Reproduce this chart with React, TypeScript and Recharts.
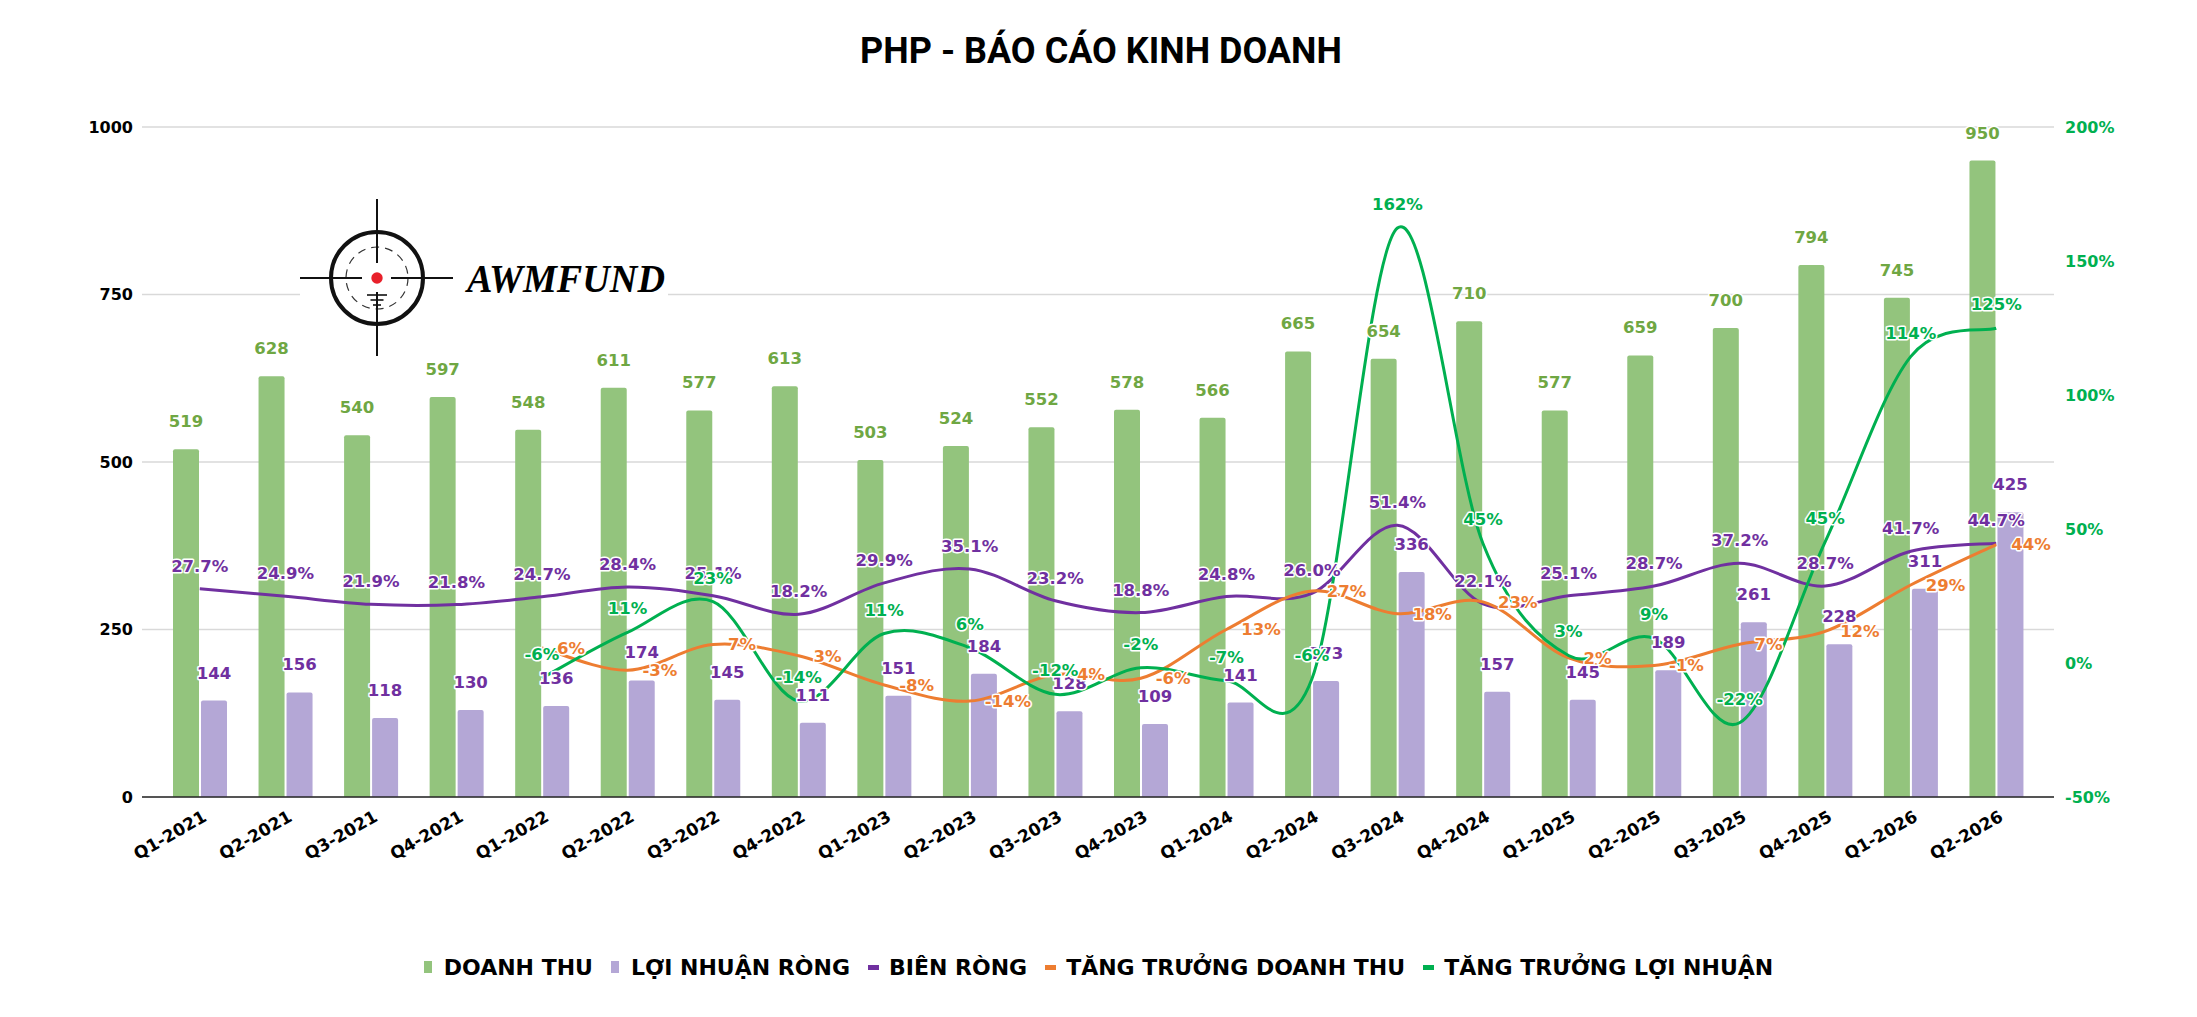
import React from 'react';
import {
  ComposedChart,
  Bar,
  Line,
  XAxis,
  YAxis,
  CartesianGrid,
  LabelList,
  Legend,
} from 'recharts';

// ---------------- DATA ----------------
const categories = [
  'Q1-2021', 'Q2-2021', 'Q3-2021', 'Q4-2021',
  'Q1-2022', 'Q2-2022', 'Q3-2022', 'Q4-2022',
  'Q1-2023', 'Q2-2023', 'Q3-2023', 'Q4-2023',
  'Q1-2024', 'Q2-2024', 'Q3-2024', 'Q4-2024',
  'Q1-2025', 'Q2-2025', 'Q3-2025', 'Q4-2025',
  'Q1-2026', 'Q2-2026',
];

const revenue = [519, 628, 540, 597, 548, 611, 577, 613, 503, 524, 552, 578, 566, 665, 654, 710, 577, 659, 700, 794, 745, 950];

const netProfit = [144, 156, 118, 130, 136, 174, 145, 111, 151, 184, 128, 109, 141, 173, 336, 157, 145, 189, 261, 228, 311, 425];

const netMargin = [27.7, 24.9, 21.9, 21.8, 24.7, 28.4, 25.1, 18.2, 29.9, 35.1, 23.2, 18.8, 24.8, 26.0, 51.4, 22.1, 25.1, 28.7, 37.2, 28.7, 41.7, 44.7];

const revenueGrowth = [null, null, null, null, 5.6, -2.7, 6.9, 2.7, -8.2, -14.2, -4.3, -5.7, 12.5, 26.9, 18.4, 22.8, 1.9, -0.9, 7.0, 11.8, 29.1, 44.2];

const profitGrowth = [null, null, null, null, -5.6, 11.4, 22.9, -14.2, 11.0, 5.7, -11.7, -1.8, -6.6, -6.0, 162.3, 44.6, 2.8, 9.2, -22.3, 45.2, 114.3, 124.9];

const leftTicks = [0, 250, 500, 750, 1000];
const rightTicks = [-50, 0, 50, 100, 150, 200];

const seriesOrder = ['revenue', 'netProfit', 'netMargin', 'revenueGrowth', 'profitGrowth'];
const seriesNames: Record<string, string> = {
  revenue: 'DOANH THU',
  netProfit: 'LỢI NHUẬN RÒNG',
  netMargin: 'BIÊN RÒNG',
  revenueGrowth: 'TĂNG TRƯỞNG DOANH THU',
  profitGrowth: 'TĂNG TRƯỞNG LỢI NHUẬN',
};

const data = categories.map((name, i) => ({
  name,
  revenue: revenue[i],
  netProfit: netProfit[i],
  netMargin: netMargin[i],
  revenueGrowth: revenueGrowth[i],
  profitGrowth: profitGrowth[i],
}));

// ---------------- STYLE ----------------
const C_REV = '#93C47D';
const C_REV_LABEL = '#6FA743';
const C_PROFIT = '#B4A7D6';
const C_PURPLE = '#7030A0';
const C_ORANGE = '#ED7D31';
const C_GREEN = '#00B050';
const LABEL_FONT = "'DejaVu Sans', Verdana, sans-serif";

// Excel-like smoothed line (Catmull-Rom style bezier)
const excelCurve: any = (context: any) => {
  let pts: number[][] = [];
  return {
    areaStart() {},
    areaEnd() {},
    lineStart() {
      pts = [];
    },
    point(x: number, y: number) {
      pts.push([+x, +y]);
    },
    lineEnd() {
      const n = pts.length;
      if (!n) return;
      context.moveTo(pts[0][0], pts[0][1]);
      if (n === 1) {
        context.lineTo(pts[0][0], pts[0][1]);
        return;
      }
      for (let i = 0; i < n - 1; i++) {
        const p0 = pts[i > 0 ? i - 1 : i];
        const p1 = pts[i];
        const p2 = pts[i + 1];
        const p3 = pts[i + 2 < n ? i + 2 : i + 1];
        context.bezierCurveTo(
          p1[0] + (p2[0] - p0[0]) / 6,
          p1[1] + (p2[1] - p0[1]) / 6,
          p2[0] - (p3[0] - p1[0]) / 6,
          p2[1] - (p3[1] - p1[1]) / 6,
          p2[0],
          p2[1]
        );
      }
    },
  };
};

const makeLabel =
  (color: string, pos: 'top' | 'right', offset: number, fmt: (v: number) => string) =>
  (props: any) => {
    const v = props.value;
    if (v === null || v === undefined || Number.isNaN(v)) return null;
    const vb = props.viewBox || props;
    const bx = Number(vb.x);
    const by = Number(vb.y);
    if (!Number.isFinite(bx) || !Number.isFinite(by)) return null;
    const w = Number(vb.width) || 0;
    const h = Number(vb.height) || 0;
    const common = {
      fill: color,
      stroke: '#ffffff',
      strokeWidth: 3,
      paintOrder: 'stroke' as any,
      strokeLinejoin: 'round' as any,
      fontFamily: LABEL_FONT,
      fontWeight: 'bold',
      fontSize: 16.5,
    };
    if (pos === 'top') {
      return (
        <text x={bx + w / 2} y={by - offset} textAnchor="middle" {...common}>
          {fmt(v)}
        </text>
      );
    }
    return (
      <text x={bx + w + offset} y={by + h / 2} dy="0.36em" textAnchor="start" {...common}>
        {fmt(v)}
      </text>
    );
  };

const fmtInt = (v: number) => `${Math.round(v)}`;
const fmtPct1 = (v: number) => `${v.toFixed(1)}%`;
const fmtPct0 = (v: number) => `${Math.round(v)}%`;

const XTick = (props: any) => {
  const { x, y, payload } = props;
  const ax = x + 8;
  const ay = y + 23;
  return (
    <text
      x={ax}
      y={ay}
      transform={`rotate(-30 ${ax} ${ay})`}
      textAnchor="end"
      fill="#000"
      fontFamily={LABEL_FONT}
      fontWeight="bold"
      fontSize={17}
    >
      {payload.value}
    </text>
  );
};

const renderLegend = (props: any) => {
  const payload = [...(props.payload || [])].sort(
    (a: any, b: any) => seriesOrder.indexOf(a.dataKey) - seriesOrder.indexOf(b.dataKey)
  );
  return (
    <div
      style={{
        display: 'flex',
        justifyContent: 'center',
        alignItems: 'center',
        width: '100%',
        height: '100%',
        fontFamily: LABEL_FONT,
        fontWeight: 'bold',
        fontSize: 22,
        color: '#000',
        whiteSpace: 'nowrap',
      }}
    >
      {payload.map((e: any, i: number) => (
        <div key={i} style={{ display: 'flex', alignItems: 'center', marginLeft: i === 0 ? 0 : 18 }}>
          {e.type === 'line' ? (
            <span style={{ display: 'inline-block', width: 11, height: 5, background: e.color, marginRight: 10 }} />
          ) : (
            <span style={{ display: 'inline-block', width: 8, height: 12, background: e.color, marginRight: 12 }} />
          )}
          <span>{e.value}</span>
        </div>
      ))}
    </div>
  );
};

const Overlay = () => (
  <svg
    width={2197}
    height={1017}
    style={{ position: 'absolute', left: 0, top: 0, pointerEvents: 'none' }}
  >
    <text
      x={1101}
      y={63}
      textAnchor="middle"
      fontFamily="Roboto, 'Noto Sans', sans-serif"
      fontWeight={700}
      fontSize={36}
      fill="#000"
    >
      PHP - BÁO CÁO KINH DOANH
    </text>
    {/* logo (white background behind it like the pasted image) */}
    <rect x={300} y={197} width={158} height={160} fill="#fff" />
    <rect x={458} y={252} width={210} height={48} fill="#fff" />
    <circle cx={377} cy={278} r={46} fill="none" stroke="#111" strokeWidth={4} />
    <circle cx={377} cy={278} r={31} fill="none" stroke="#333" strokeWidth={1.2} strokeDasharray="8 6" />
    <line x1={300} y1={278} x2={362} y2={278} stroke="#111" strokeWidth={2} />
    <line x1={391} y1={278} x2={453} y2={278} stroke="#111" strokeWidth={2} />
    <line x1={377} y1={199} x2={377} y2={263} stroke="#111" strokeWidth={2} />
    <line x1={377} y1={292} x2={377} y2={356} stroke="#111" strokeWidth={2} />
    <circle cx={377} cy={278} r={5.7} fill="#E8202A" />
    <line x1={367} y1={295} x2={387} y2={295} stroke="#111" strokeWidth={1.6} />
    <line x1={370.5} y1={300} x2={383.5} y2={300} stroke="#111" strokeWidth={1.6} />
    <line x1={373} y1={305} x2={381} y2={305} stroke="#111" strokeWidth={1.6} />
    <text
      x={467}
      y={292}
      fontFamily="'Liberation Serif', 'DejaVu Serif', serif"
      fontWeight="bold"
      fontStyle="italic"
      fontSize={40}
      fill="#000"
      textLength={198}
      lengthAdjust="spacingAndGlyphs"
    >
      AWMFUND
    </text>
  </svg>
);

export default function App() {
  return (
    <div style={{ position: 'relative', width: 2197, height: 1017, background: '#fff', fontFamily: LABEL_FONT }}>
      <style>{'body{margin:0;background:#fff;}'}</style>
      <ComposedChart
        width={2197}
        height={1017}
        data={data}
        margin={{ top: 127, right: 63, bottom: 140, left: 62 }}
        barSize={26}
        barGap={2}
      >
        <CartesianGrid yAxisId="left" vertical={false} stroke="#D9D9D9" strokeWidth={1.3} />
        <XAxis
          dataKey="name"
          interval={0}
          height={80}
          padding={{ left: 15, right: 15 }}
          tickLine={false}
          tickSize={0}
          tickMargin={0}
          axisLine={{ stroke: '#262626', strokeWidth: 1.6 }}
          tick={<XTick />}
        />
        <YAxis
          yAxisId="left"
          orientation="left"
          width={80}
          domain={[0, 1000]}
          ticks={leftTicks}
          interval={0}
          axisLine={false}
          tickLine={false}
          tickSize={0}
          tickMargin={9}
          tick={{ fill: '#000', fontSize: 16, fontWeight: 'bold', fontFamily: LABEL_FONT }}
        />
        <YAxis
          yAxisId="right"
          orientation="right"
          width={80}
          domain={[-50, 200]}
          ticks={rightTicks}
          interval={0}
          axisLine={false}
          tickLine={false}
          tickSize={0}
          tickMargin={11}
          tickFormatter={(v: number) => `${v}%`}
          tick={{ fill: C_GREEN, fontSize: 16, fontWeight: 'bold', fontFamily: LABEL_FONT }}
        />
        <Bar
          yAxisId="left"
          dataKey="revenue"
          name={seriesNames.revenue}
          fill={C_REV}
          radius={[2, 2, 0, 0]}
          legendType="rect"
          isAnimationActive={false}
        >
          <LabelList dataKey="revenue" content={makeLabel(C_REV_LABEL, 'top', 22, fmtInt)} />
        </Bar>
        <Bar
          yAxisId="left"
          dataKey="netProfit"
          name={seriesNames.netProfit}
          fill={C_PROFIT}
          radius={[2, 2, 0, 0]}
          legendType="rect"
          isAnimationActive={false}
        >
          <LabelList dataKey="netProfit" content={makeLabel(C_PURPLE, 'top', 22, fmtInt)} />
        </Bar>
        <Line
          yAxisId="right"
          dataKey="netMargin"
          name={seriesNames.netMargin}
          type={excelCurve}
          stroke={C_PURPLE}
          strokeWidth={3}
          dot={false}
          activeDot={false}
          legendType="line"
          isAnimationActive={false}
        >
          <LabelList dataKey="netMargin" content={makeLabel(C_PURPLE, 'top', 17, fmtPct1)} />
        </Line>
        <Line
          yAxisId="right"
          dataKey="revenueGrowth"
          name={seriesNames.revenueGrowth}
          type={excelCurve}
          stroke={C_ORANGE}
          strokeWidth={3}
          dot={false}
          activeDot={false}
          legendType="line"
          isAnimationActive={false}
        >
          <LabelList dataKey="revenueGrowth" content={makeLabel(C_ORANGE, 'right', 15, fmtPct0)} />
        </Line>
        <Line
          yAxisId="right"
          dataKey="profitGrowth"
          name={seriesNames.profitGrowth}
          type={excelCurve}
          stroke={C_GREEN}
          strokeWidth={3}
          dot={false}
          activeDot={false}
          legendType="line"
          isAnimationActive={false}
        >
          <LabelList dataKey="profitGrowth" content={makeLabel(C_GREEN, 'top', 18, fmtPct0)} />
        </Line>
        <Legend
          verticalAlign="middle"
          align="center"
          layout="horizontal"
          content={renderLegend}
          wrapperStyle={{ position: 'absolute', left: 0, top: 945, width: 2197, height: 44 }}
        />
      </ComposedChart>
      <Overlay />
    </div>
  );
}
